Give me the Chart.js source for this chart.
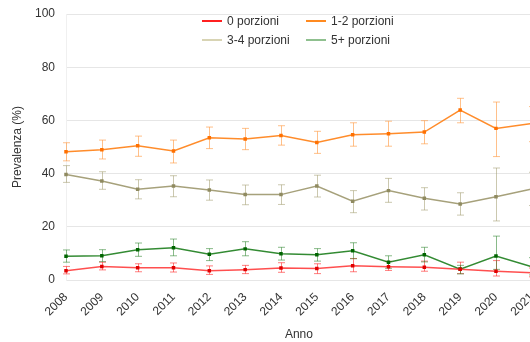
<!DOCTYPE html>
<html>
<head>
<meta charset="utf-8">
<script src="https://cdn.jsdelivr.net/npm/chart.js@4"></script>
<style>
  html, body { margin: 0; padding: 0; background: #fff; overflow: hidden; }
  body { width: 530px; height: 342px; position: relative; font-family: "Liberation Sans", Arial, sans-serif; }
  #wrap { position: absolute; left: 0; top: 0; width: 544px; height: 342px; }
  #legend { position: absolute; left: 202px; top: 13px; font-size: 12px; color: #333; }
  .item { position: absolute; white-space: nowrap; line-height: 16px; }
  .item span { display: inline-block; width: 20px; height: 2px; vertical-align: middle; margin-right: 5px; position: relative; top: -1px; }
</style>
</head>
<body>
<div id="wrap"><canvas id="chart"></canvas></div>
<div id="legend"></div>
<script>
// Years
const years = ['2008','2009','2010','2011','2012','2013','2014','2015','2016','2017','2018','2019','2020','2021'];

// Prevalence (%) and 95% CI per portion group
const zero    = [3.5, 5.1, 4.6, 4.6, 3.5, 3.9, 4.5, 4.3, 5.4, 5.0, 4.8, 4.0, 3.3, 2.7];
const zeroLo  = [2.3, 3.8, 3.1, 3.0, 2.1, 2.4, 2.9, 2.4, 3.1, 3.6, 3.3, 2.4, 1.5, 1.2];
const zeroHi  = [5.1, 6.7, 6.1, 6.4, 5.3, 5.5, 6.5, 6.1, 8.1, 7.0, 7.1, 6.7, 7.3, 4.5];

const oneTwo   = [48.2, 49.0, 50.5, 48.5, 53.5, 53.0, 54.3, 51.7, 54.6, 55.0, 55.6, 63.9, 57.0, 58.8];
const oneTwoLo = [44.8, 45.5, 46.5, 44.0, 49.4, 49.0, 50.7, 47.6, 50.3, 50.3, 51.2, 59.1, 46.4, 52.0];
const oneTwoHi = [51.6, 52.6, 54.1, 52.6, 57.5, 57.0, 58.0, 55.9, 59.1, 59.7, 59.9, 68.3, 66.9, 65.2];

const threeFour   = [39.7, 37.2, 34.1, 35.3, 33.8, 32.1, 32.1, 35.3, 29.6, 33.6, 30.7, 28.6, 31.3, 34.2];
const threeFourLo = [36.7, 34.1, 30.5, 31.3, 30.0, 28.3, 28.4, 31.2, 25.3, 29.2, 26.3, 24.4, 22.2, 28.0];
const threeFourHi = [43.0, 40.7, 37.7, 39.2, 37.6, 35.7, 35.8, 39.4, 33.6, 38.2, 34.7, 32.8, 42.1, 40.5];

const fivePlus   = [8.9, 9.1, 11.4, 12.1, 9.7, 11.7, 9.9, 9.5, 11.0, 6.7, 9.5, 4.1, 9.0, 5.0];
const fivePlusLo = [6.7, 6.9, 8.9, 9.1, 7.3, 9.1, 7.5, 7.1, 8.0, 4.4, 6.8, 2.3, 4.0, 1.9];
const fivePlusHi = [11.3, 11.4, 13.9, 15.4, 11.8, 14.4, 12.3, 11.8, 14.0, 9.1, 12.3, 5.5, 16.5, 8.4];

const yTicks = [0, 20, 40, 60, 80, 100];

const series = [
  { label: '0 porzioni',   data: zero,      lo: zeroLo,      hi: zeroHi,      line: 'rgba(255,20,20,0.75)',  point: '#e00000', bar: 'rgba(255,40,40,0.6)',   legend: '#ff2020' },
  { label: '1-2 porzioni', data: oneTwo,    lo: oneTwoLo,    hi: oneTwoHi,    line: 'rgba(255,128,20,0.9)',  point: '#ff7000', bar: 'rgba(255,150,60,0.6)',  legend: '#ff8a20' },
  { label: '3-4 porzioni', data: threeFour, lo: threeFourLo, hi: threeFourHi, line: 'rgba(150,145,100,0.85)', point: '#8f8a60', bar: 'rgba(160,155,110,0.55)', legend: '#d8d4b4' },
  { label: '5+ porzioni',  data: fivePlus,  lo: fivePlusLo,  hi: fivePlusHi,  line: 'rgba(0,110,0,0.8)',     point: '#006400', bar: 'rgba(40,130,40,0.55)',  legend: '#8fc08f' }
];

// error bars drawn through the chart scales
const errorBars = {
  id: 'errorBars',
  beforeDatasetsDraw(chart) {
    const ctx = chart.ctx;
    const x = chart.scales.x, y = chart.scales.y;
    ctx.save();
    ctx.lineWidth = 1;
    series.forEach(s => {
      ctx.strokeStyle = s.bar;
      years.forEach((yr, i) => {
        const px = Math.round(x.getPixelForValue(i)) + 0.5;
        const top = y.getPixelForValue(s.hi[i]);
        const bot = y.getPixelForValue(s.lo[i]);
        ctx.beginPath();
        ctx.moveTo(px, top); ctx.lineTo(px, bot);
        ctx.moveTo(px - 3.5, top); ctx.lineTo(px + 3.5, top);
        ctx.moveTo(px - 3.5, bot); ctx.lineTo(px + 3.5, bot);
        ctx.stroke();
      });
    });
    ctx.restore();
  }
};

const ctx = document.getElementById('chart').getContext('2d');
new Chart(ctx, {
  type: 'line',
  data: {
    labels: years,
    datasets: series.map(s => ({
      label: s.label,
      data: s.data,
      borderColor: s.line,
      backgroundColor: s.point,
      pointBackgroundColor: s.point,
      pointBorderColor: s.point,
      pointRadius: 1.4,
      pointStyle: 'rect',
      borderWidth: 1.5,
      tension: 0,
      fill: false
    }))
  },
  options: {
    responsive: true,
    maintainAspectRatio: false,
    animation: false,
    layout: { padding: { top: 14, right: 0, left: 0, bottom: 0 } },
    plugins: { legend: { display: false }, tooltip: { enabled: false } },
    scales: {
      x: {
        offset: false,
        grid: { display: false },
        border: { display: false },
        ticks: { color: '#333', font: { family: 'Liberation Sans', size: 12 }, minRotation: 45, maxRotation: 45, autoSkip: false, padding: 2 },
        title: { display: true, text: 'Anno', color: '#333', font: { family: 'Liberation Sans', size: 12 }, padding: { top: 0, bottom: 0 } },
        afterFit(scale) { scale.height = 62; }
      },
      y: {
        min: 0, max: 100,
        afterBuildTicks(scale) { scale.ticks = yTicks.map(v => ({ value: v })); },
        grid: { color: '#e6e6e6', drawTicks: false },
        border: { color: '#f0f0f0' },
        ticks: { color: '#333', font: { family: 'Liberation Sans', size: 12 }, padding: 11 },
        title: { display: true, text: 'Prevalenza (%)', color: '#333', font: { family: 'Liberation Sans', size: 12 }, padding: { top: 10, bottom: 0 } },
        afterFit(scale) { scale.width = 66; scale.paddingTop = 0; scale.paddingBottom = 0; }
      }
    }
  },
  plugins: [errorBars]
});

// two-column legend
const legend = document.getElementById('legend');
series.forEach((s, i) => {
  const d = document.createElement('div');
  d.className = 'item';
  d.style.left = (i % 2 ? 104 : 0) + 'px';
  d.style.top = (i < 2 ? 0 : 19) + 'px';
  d.innerHTML = '<span style="background:' + s.legend + '"></span>' + s.label;
  legend.appendChild(d);
});
</script>
</body>
</html>
